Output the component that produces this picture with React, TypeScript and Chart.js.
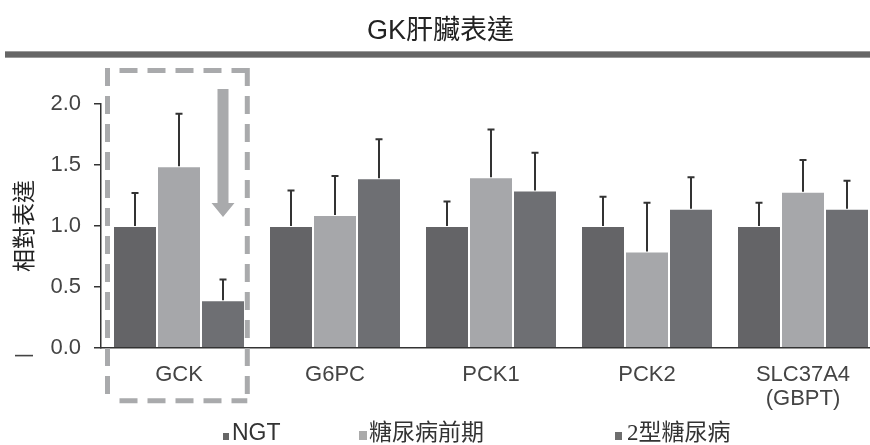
import { useEffect, useRef } from "react";
import { Chart, registerables } from "chart.js";

Chart.register(...registerables);

const titleText = "GK肝臟表達";
const yAxisTitle = "相對表達";
const categories: (string | string[])[] = ["GCK", "G6PC", "PCK1", "PCK2", ["SLC37A4", "(GBPT)"]];
const seriesNames = ["NGT", "糖尿病前期", "2型糖尿病"];
const ngtValues = [1.0, 1.0, 1.0, 1.0, 1.0];
const ngtErrors = [0.27, 0.29, 0.2, 0.24, 0.19];
const preValues = [1.49, 1.09, 1.4, 0.79, 1.28];
const preErrors = [0.43, 0.32, 0.39, 0.4, 0.26];
const t2dValues = [0.39, 1.39, 1.29, 1.14, 1.14];
const t2dErrors = [0.17, 0.32, 0.31, 0.26, 0.23];
const yTicks = [0, 0.5, 1.0, 1.5, 2.0];

const seriesColors = ["#646467", "#a6a7aa", "#6e6f73"];
const legendSquareColors = ["#666666", "#aaaaaa", "#6e6e6e"];
const errorsBySeries = [ngtErrors, preErrors, t2dErrors];

const overlayPlugin = {
  id: "overlay",
  afterDraw(chart: any) {
    const ctx = chart.ctx;
    const area = chart.chartArea;
    const xs = chart.scales.x;
    const ys = chart.scales.y;
    ctx.save();

    // thick rule under title
    ctx.fillStyle = "#9a9a9a";
    ctx.fillRect(5, 51, chart.width, 7);
    ctx.fillStyle = "#666666";
    ctx.fillRect(5, 52, chart.width, 5);

    // error bars
    ctx.strokeStyle = "#333333";
    ctx.lineWidth = 2;
    chart.data.datasets.forEach((ds: any, di: number) => {
      const meta = chart.getDatasetMeta(di);
      meta.data.forEach((bar: any, i: number) => {
        const v = ds.data[i];
        const top = ys.getPixelForValue(v + errorsBySeries[di][i]);
        const cx = Math.round(bar.x);
        ctx.beginPath();
        ctx.moveTo(cx, bar.y);
        ctx.lineTo(cx, top);
        ctx.moveTo(cx - 3.5, top);
        ctx.lineTo(cx + 3.5, top);
        ctx.stroke();
      });
    });

    // dashed highlight box around first category
    const catW = xs.width / categories.length;
    const catLeft = xs.getPixelForValue(0) - catW / 2;
    const bl = catLeft + 6.5;
    const br = catLeft + 146.3;
    const bt = area.top - 33.5;
    const bb = area.bottom + 53;
    ctx.strokeStyle = "#a9aaac";
    ctx.lineWidth = 5;
    ctx.setLineDash([18, 10]);
    const seg = (x1: number, y1: number, x2: number, y2: number, off: number) => {
      ctx.lineDashOffset = off;
      ctx.beginPath();
      ctx.moveTo(x1, y1);
      ctx.lineTo(x2, y2);
      ctx.stroke();
    };
    seg(bl, bt - 2.5, bl, bb + 2.5, 0);
    seg(bl + 12, bt, br, bt, 0);
    seg(br, bt - 2.5, br, bb + 2.5, 0);
    seg(bl + 12, bb, br, bb, 0);
    ctx.setLineDash([]);

    // downward arrow over the first category's third bar
    const arrowBar = chart.getDatasetMeta(2).data[0];
    const ax = arrowBar.x;
    const aTop = area.top - 15;
    const aTip = area.top + 113;
    const headH = 14;
    ctx.fillStyle = "#a9aaac";
    ctx.beginPath();
    ctx.moveTo(ax - 5.5, aTop);
    ctx.lineTo(ax + 5.5, aTop);
    ctx.lineTo(ax + 5.5, aTip - headH);
    ctx.lineTo(ax + 11.5, aTip - headH);
    ctx.lineTo(ax, aTip);
    ctx.lineTo(ax - 11.5, aTip - headH);
    ctx.lineTo(ax - 5.5, aTip - headH);
    ctx.closePath();
    ctx.fill();

    // stray mark at left
    ctx.fillStyle = "#444444";
    ctx.fillRect(15, area.bottom + 7, 18, 1.6);

    // legend
    const legendSquareX = [223, 359, 615];
    const legendSquareW = [6, 8, 7];
    const legendTextX = [232, 369, 627];
    const ly = 434;
    chart.data.datasets.forEach((ds: any, di: number) => {
      ctx.fillStyle = legendSquareColors[di];
      const w = legendSquareW[di];
      ctx.fillRect(legendSquareX[di], ly + 5 - w, w, w + 1);
      ctx.fillStyle = "#333333";
      ctx.textBaseline = "middle";
      ctx.textAlign = "left";
      ctx.font = di === 0
        ? "23px 'Liberation Sans', Arial, sans-serif"
        : "23px 'Liberation Serif', 'Noto Sans CJK TC', serif";
      ctx.fillText(ds.label, legendTextX[di], ly);
    });

    ctx.restore();
  },
};

export default function App() {
  const canvasRef = useRef<HTMLCanvasElement | null>(null);

  useEffect(() => {
    if (!canvasRef.current) return;
    const chart = new Chart(canvasRef.current, {
      type: "bar",
      data: {
        labels: categories,
        datasets: [ngtValues, preValues, t2dValues].map((vals, i) => ({
          label: seriesNames[i],
          data: vals,
          backgroundColor: seriesColors[i],
          borderColor: "#ffffff",
          borderWidth: 1,
          borderSkipped: "start",
          barPercentage: 1.0,
          categoryPercentage: 132 / 156,
        })),
      },
      options: {
        animation: false,
        responsive: false,
        devicePixelRatio: 1,
        layout: { padding: { left: 0, right: 9, top: 0, bottom: 19 } },
        plugins: {
          legend: { display: false },
          tooltip: { enabled: false },
          title: {
            display: true,
            text: titleText,
            color: "#222222",
            font: { family: "'Liberation Sans', 'Noto Sans CJK TC', sans-serif", size: 27, weight: "normal" },
            padding: { top: 15, bottom: 56.6 },
          },
        },
        scales: {
          x: {
            grid: { display: false, drawTicks: false },
            border: { display: true, color: "#333333", width: 1.5 },
            ticks: {
              color: "#444444",
              padding: 16,
              font: { family: "'Liberation Sans', Arial, sans-serif", size: 22, lineHeight: 1.05 },
              maxRotation: 0,
              autoSkip: false,
            },
          },
          y: {
            min: 0,
            max: 2,
            afterBuildTicks: (scale: any) => {
              scale.ticks = yTicks.map((v) => ({ value: v }));
            },
            afterFit: (scale: any) => {
              scale.width = 101;
            },
            grid: { display: true, drawOnChartArea: false, drawTicks: true, tickLength: 7, color: "#333333", lineWidth: 1.5 },
            border: { display: true, color: "#333333", width: 1.5 },
            ticks: {
              color: "#444444",
              padding: 13,
              font: { family: "'Liberation Sans', Arial, sans-serif", size: 22 },
              callback: (v: any) => Number(v).toFixed(1),
            },
            title: {
              display: true,
              text: yAxisTitle,
              color: "#222222",
              font: { family: "'Noto Sans CJK TC', sans-serif", size: 23 },
              padding: { top: 9, bottom: 0 },
            },
          },
        },
      },
      plugins: [overlayPlugin],
    });
    return () => chart.destroy();
  }, []);

  return (
    <div style={{ position: "fixed", left: 0, top: 0, width: 870, height: 445, overflow: "hidden", background: "#ffffff" }}>
      <canvas ref={canvasRef} width={890} height={445} style={{ display: "block" }} />
    </div>
  );
}
